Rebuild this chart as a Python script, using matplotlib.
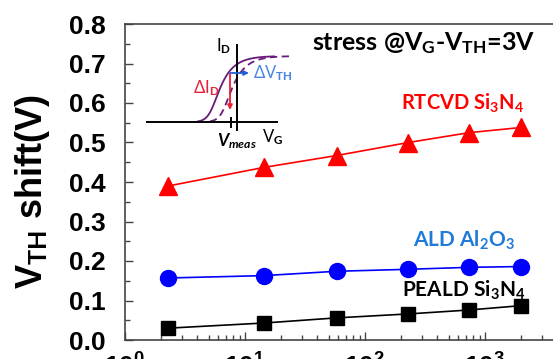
import numpy as np
import matplotlib
matplotlib.use("Agg")
import matplotlib.pyplot as plt
from matplotlib.ticker import MultipleLocator, LogLocator, NullFormatter

# stress time (s) and threshold voltage shift (V)
stress_time = [2.3, 14.4, 58, 230, 740, 2000]
rtcvd_shift = [0.390, 0.437, 0.467, 0.500, 0.525, 0.538]
ald_shift = [0.157, 0.163, 0.174, 0.179, 0.184, 0.186]
peald_shift = [0.030, 0.043, 0.056, 0.066, 0.076, 0.087]

plt.rcParams["font.family"] = ["Liberation Sans", "DejaVu Sans"]
plt.rcParams["font.weight"] = "bold"
plt.rcParams["mathtext.fontset"] = "custom"
plt.rcParams["mathtext.rm"] = "Lato"
plt.rcParams["mathtext.bf"] = "Lato:bold"
plt.rcParams["mathtext.it"] = "Lato:italic"
plt.rcParams["mathtext.default"] = "bf"

W, H = 553, 359
fig = plt.figure(figsize=(W / 100, H / 100), dpi=100)

def px(x, y):
    # figure pixel position -> figure fraction
    return x / W, 1 - y / H

left, top, bottom = 125, 24, 340
right = 560
ax = fig.add_axes([left / W, 1 - bottom / H, (right - left) / W, (bottom - top) / H])

ax.plot(stress_time, rtcvd_shift, "-^", color="red", ms=13, lw=1.2)
ax.plot(stress_time, ald_shift, "-o", color="blue", ms=11.5, lw=1.2)
ax.plot(stress_time, peald_shift, "-s", color="black", ms=10.5, lw=1.2)

ax.set_xscale("log")
ax.set_xlim(1, 10 ** ((right - left) / 120))
ax.set_ylim(0, 0.8)
ax.yaxis.set_major_locator(MultipleLocator(0.1))
ax.yaxis.set_minor_locator(MultipleLocator(0.05))
ax.xaxis.set_minor_locator(LogLocator(base=10, subs=np.arange(2, 10), numticks=20))
ax.xaxis.set_minor_formatter(NullFormatter())
ax.yaxis.set_major_formatter(matplotlib.ticker.FormatStrFormatter("%.1f"))
ax.tick_params(which="both", direction="in", top=False, right=False)
ax.tick_params(which="major", length=6, width=1, labelsize=19, color="#444")
ax.tick_params(which="minor", length=3.5, width=1, color="#444")
ax.tick_params(axis="y", pad=14)
ax.tick_params(axis="x", pad=10)
for s in ax.spines.values():
    s.set_color("#444")
    s.set_linewidth(1.2)

ax.set_ylabel(r"V$_{TH}$ shift(V)", fontsize=26, fontweight="bold")
ax.yaxis.set_label_coords((52 - left) / (right - left), 0.47)

fig.text(*px(424, 43), r"stress @V$_G$-V$_{TH}$=3V", fontsize=18, fontfamily="Lato",
         fontweight="bold", ha="center", va="center")
fig.text(*px(463, 103), r"RTCVD Si$_3$N$_4$", fontsize=14.5, fontfamily="Lato",
         fontweight="bold", color="red", ha="center", va="center")
fig.text(*px(464, 240), r"ALD Al$_2$O$_3$", fontsize=15, fontfamily="Lato",
         fontweight="bold", color="#1f7bd6", ha="center", va="center")
fig.text(*px(464, 290), r"PEALD Si$_3$N$_4$", fontsize=15, fontfamily="Lato",
         fontweight="bold", color="black", ha="center", va="center")

# inset schematic of the I-V curve shift, drawn in figure pixels
ins = fig.add_axes([0, 0, 1, 1], facecolor="none")
ins.set_xlim(0, W)
ins.set_ylim(H, 0)
ins.axis("off")

def idvg(v, c):
    g = np.log1p(np.exp((v - c) / 4.0))
    return 122 - 66 * (1 - np.exp(-g / 3.0))

vg = np.linspace(198, 274, 200)
ins.plot(vg, idvg(vg, 212), color="#6a1b7a", lw=1.3)
vg2 = np.linspace(210, 290, 200)
ins.plot(vg2, idvg(vg2, 224), color="#6a1b7a", lw=1.3, ls=(0, (4, 2.5)))
ins.plot([147, 277], [122, 122], color="black", lw=1.4)
ins.plot([237, 237], [45, 130], color="black", lw=1.4)
ins.plot([231, 231], [118, 127], color="black", lw=1.4)
ins.annotate("", xy=(249, 73), xytext=(230, 73),
             arrowprops=dict(arrowstyle="-|>", color="#1f5fd6", lw=1.3, mutation_scale=7, shrinkA=0, shrinkB=0))
ins.annotate("", xy=(230, 110), xytext=(230, 74),
             arrowprops=dict(arrowstyle="-|>", color="#e8203a", lw=1.3, mutation_scale=7, shrinkA=0, shrinkB=0))
ins.text(224, 46, r"I$_\mathrm{D}$", fontsize=12, fontfamily="Lato", fontweight="normal", ha="center", va="center")
ins.text(273, 137, r"V$_\mathrm{G}$", fontsize=12, fontfamily="Lato", fontweight="normal", ha="center", va="center")
ins.text(237, 141, r"$\mathit{V}_{\mathit{meas}}$", fontsize=12.5, ha="center", va="center")
ins.text(206, 88, r"ΔI$_\mathrm{D}$", fontsize=12, fontfamily=["Lato", "DejaVu Sans"], fontweight="normal",
         color="#e8203a", ha="center", va="center")
ins.text(253, 73, r"ΔV$_\mathrm{TH}$", fontsize=12, fontfamily=["Lato", "DejaVu Sans"], fontweight="normal",
         color="#4a86e0", ha="left", va="center")

fig.savefig("out.png", dpi=100)
